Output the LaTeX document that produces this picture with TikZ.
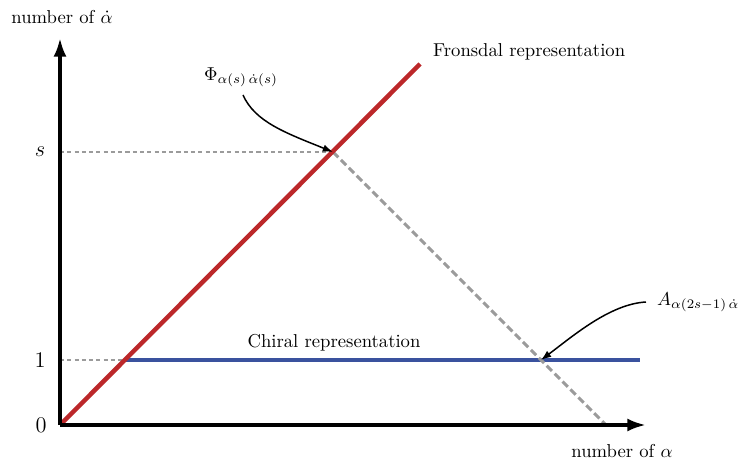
\documentclass[tikz,border=0pt]{standalone}
\usetikzlibrary{arrows.meta}
\definecolor{fred}{RGB}{188,40,42}
\definecolor{cblue}{RGB}{58,82,158}
\definecolor{dgray}{RGB}{155,155,155}
\begin{document}
\begin{tikzpicture}[x=0.536pt,y=-0.536pt,
  axis/.style={line width=1.9pt,-{Latex[length=10pt,width=7pt]}},
  guide/.style={dgray,line width=1pt,dash pattern=on 2.2pt off 1.7pt},
  guidediag/.style={dgray,line width=1.6pt,dash pattern=on 4pt off 2pt},
  redline/.style={fred,line width=2.4pt},
  blueline/.style={cblue,line width=2pt},
  callout/.style={line width=0.8pt,-{Latex[length=5.5pt,width=4pt]}},
  lbl/.style={inner sep=1pt},
  tick/.style={inner sep=1pt,font=\large}]
\useasboundingbox (0,0) rectangle (743,461);
\coordinate (O) at (60,425);
\coordinate (ytip) at (60,38);
\coordinate (xtip) at (646,425);
\coordinate (redend) at (420,64);
\coordinate (P) at (333,152);
\coordinate (Q) at (541,360);
\coordinate (C) at (125,360);
\coordinate (blueend) at (640,360);
\coordinate (grayend) at (606,425);
\coordinate (sy) at (60,152);
\coordinate (oney) at (60,360);
% guides
\draw[guide] (sy) -- (P);
\draw[guide] (oney) -- (C);
\draw[blueline] (C) -- (blueend);
\draw[guidediag] (P) -- (grayend);
\draw[redline] (O) -- (redend);
% axes
\draw[axis] (O) -- (ytip);
\draw[axis] (O) -- (xtip);
% labels
\node[lbl] (ylab) at (62,17) {number of $\dot\alpha$};
\node[lbl] (xlab) at (622,451) {number of $\alpha$};
\node[tick] (slab) at (40,152) {$s$};
\node[tick] (onelab) at (40,360) {$1$};
\node[tick] (zerolab) at (41,425) {$0$};
\node[lbl,anchor=west] (fron) at (431,52) {Fronsdal representation};
\node[lbl] (chiral) at (334,343) {Chiral representation};
\node[lbl] (phi) at (241,77) {$\Phi_{\alpha(s)\,\dot\alpha(s)}$};
\node[lbl,anchor=west] (A) at (655,302) {$A_{\alpha(2s-1)\,\dot\alpha}$};
% callouts
\coordinate (phistart) at (243,95);
\coordinate (pc1) at (255,122);
\coordinate (pc2) at (286,133);
\coordinate (astart) at (646,302);
\coordinate (ac1) at (610,304);
\coordinate (ac2) at (573,336);
\draw[callout] (phistart) .. controls (pc1) and (pc2) .. (P);
\draw[callout] (astart) .. controls (ac1) and (ac2) .. (Q);
\end{tikzpicture}
\end{document}
